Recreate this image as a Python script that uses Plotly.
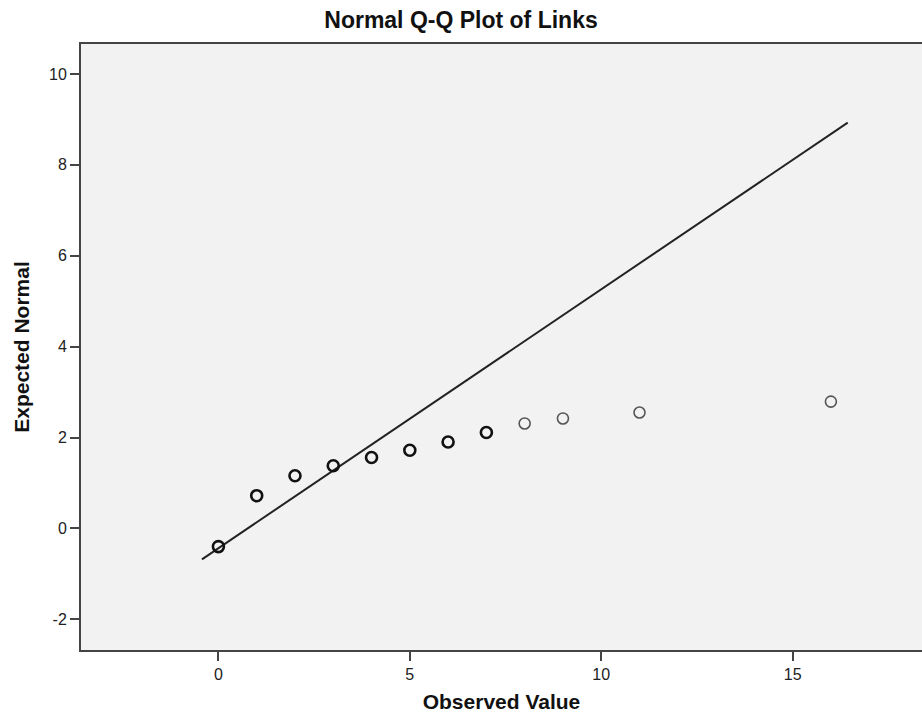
import plotly.graph_objects as go

observed = [0, 1, 2, 3, 4, 5, 6, 7, 8, 9, 11, 16]
expected = [-0.40, 0.72, 1.16, 1.38, 1.56, 1.72, 1.90, 2.11, 2.31, 2.42, 2.55, 2.79]
bold_count = 8  # points drawn with heavy outline (overlapping cases)

line_x = [-0.43, 16.44]
line_y = [-0.68, 8.93]

x_ticks = [0, 5, 10, 15]
x_labels = ["0", "5", "10", "15"]
y_ticks = [-2, 0, 2, 4, 6, 8, 10]
y_labels = ["-2", "0", "2", "4", "6", "8", "10"]

FONT = "Liberation Sans, Arial, sans-serif"

fig = go.Figure()
fig.add_trace(go.Scatter(x=line_x, y=line_y, mode="lines",
                         line=dict(color="#222222", width=2), hoverinfo="skip"))
fig.add_trace(go.Scatter(x=observed[:bold_count], y=expected[:bold_count], mode="markers",
                         marker=dict(symbol="circle-open", size=11, color="#111111",
                                     line=dict(width=2.6, color="#111111"))))
fig.add_trace(go.Scatter(x=observed[bold_count:], y=expected[bold_count:], mode="markers",
                         marker=dict(symbol="circle-open", size=11, color="#555555",
                                     line=dict(width=1.6, color="#555555"))))

fig.update_layout(
    width=922, height=726,
    margin=dict(l=81, r=0, t=44, b=76),
    paper_bgcolor="white", plot_bgcolor="#f2f2f2",
    showlegend=False,
    font=dict(family=FONT, color="#222222"),
    title=dict(text="<b>Normal Q-Q Plot of Links</b>", x=0.5, xref="container", xanchor="center",
               y=1 - 20 / 726, yref="container", yanchor="middle",
               font=dict(family=FONT, size=23, color="#111111")),
)

fig.update_xaxes(range=[-3.59, 18.38], tickvals=x_ticks, ticktext=x_labels,
                 ticks="outside", ticklen=9,
                 tickwidth=2, tickcolor="#444444", showgrid=False, zeroline=False,
                 showline=True, linecolor="#444444", linewidth=2, mirror=True,
                 tickfont=dict(size=16, color="#222222"),
                 title=dict(text="<b>Observed Value</b>", standoff=12,
                            font=dict(size=21, color="#111111")))
fig.update_yaxes(range=[-2.676, 10.66], tickvals=y_ticks, ticktext=y_labels,
                 ticks="outside", ticklen=9,
                 tickwidth=2, tickcolor="#444444", showgrid=False, zeroline=False,
                 showline=True, linecolor="#444444", linewidth=2,
                 tickfont=dict(size=16, color="#222222"),
                 title=dict(text="<b>Expected Normal</b>", standoff=14,
                            font=dict(size=21, color="#111111")))

fig.write_html("out.html")
